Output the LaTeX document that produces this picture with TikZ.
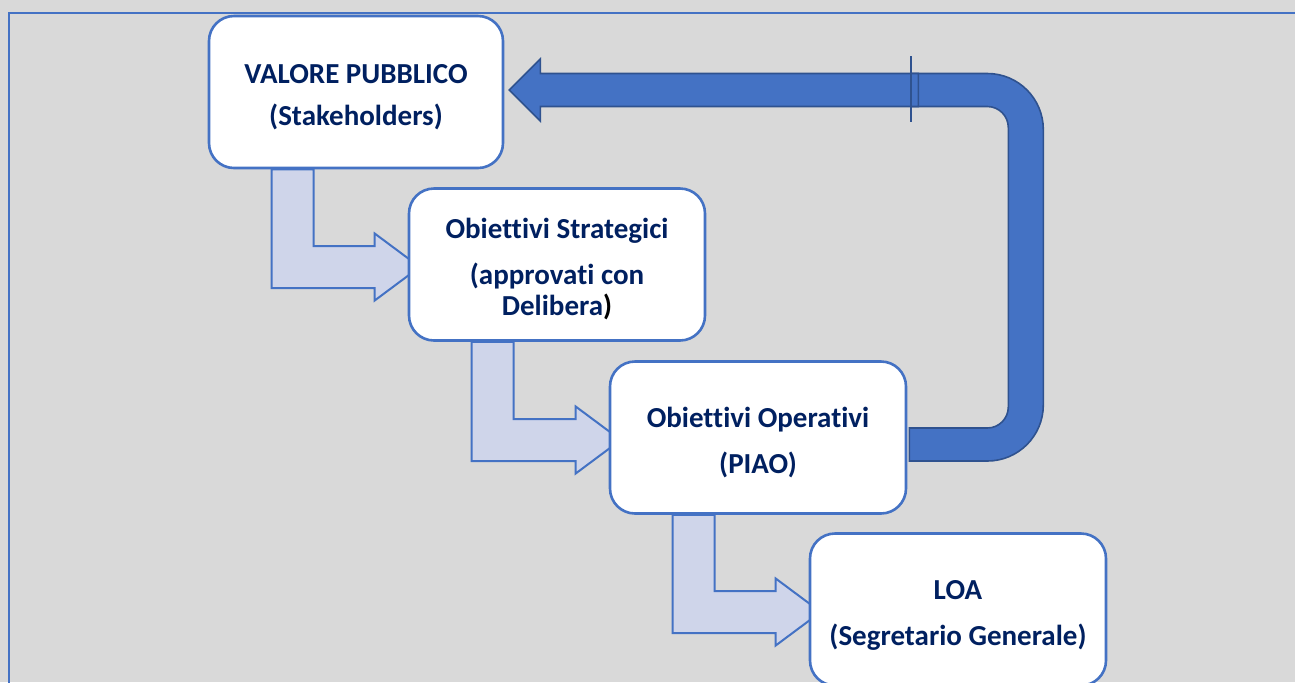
\documentclass[tikz,border=0pt]{standalone}
\usepackage{fontspec}
\setmainfont{Carlito}[Ligatures=NoCommon]
\usetikzlibrary{calc}

\definecolor{bggray}{HTML}{D9D9D9}
\definecolor{lineblue}{HTML}{4472C4}
\definecolor{paleblue}{HTML}{CFD5EA}
\definecolor{darkblue}{HTML}{2F528F}
\definecolor{navy}{HTML}{002060}

\pgfdeclarelayer{bg}
\pgfdeclarelayer{behind}
\pgfsetlayers{bg,behind,main}

\tikzset{
	box/.style={draw=lineblue, line width=1.3pt, fill=white, rounded corners=12.5pt,
		minimum width=148pt, minimum height=76pt, align=center, text=navy,
		font=\fontsize{14.5}{15.5}\selectfont\bfseries},
	bent/.style={draw=lineblue, line width=1pt, fill=paleblue},
	backloop/.style={draw=darkblue, line width=0.8pt, fill=lineblue}
}

% strut that lowers the text a little in the boxes
\newcommand{\topgap}{\rule{0pt}{15pt}}

% bent arrow from the bottom of #1 into the left side of #2
\newcommand{\bentarrow}[2]{%
	\draw[bent] let \p1=(#1.south west), \p2=(#2.west) in
		(\x1+32pt,\y1) -- (\x1+32pt,\y2-11.75pt) -- (\x2-16.5pt,\y2-11.75pt)
		-- (\x2-16.5pt,\y2-18pt) -- (\x2+6pt,\y2-1.25pt) -- (\x2-16.5pt,\y2+15.5pt)
		-- (\x2-16.5pt,\y2+9.25pt) -- (\x1+53pt,\y2+9.25pt) -- (\x1+53pt,\y1) -- cycle;
}

\begin{document}
\begin{tikzpicture}[x=0.5pt,y=-0.5pt]
	\useasboundingbox (0,0) rectangle (1295,682);
	\begin{pgfonlayer}{bg}
		\fill[bggray] (0,0) rectangle (1295,682);
		\draw[lineblue, line width=1pt] (9,690) -- (9,13) -- (1300,13);
	\end{pgfonlayer}

	\draw (356,92) node [box, minimum width=147pt] (vp) {\topgap VALORE PUBBLICO\\[5.5pt](Stakeholders)};
	\draw (557,264.5) node [box] (os) {\topgap Obiettivi Strategici\\[7.5pt](approvati con\\Delibera{\color{black})}};
	\draw (758,437.5) node [box] (oo) {\topgap Obiettivi Operativi\\[7.5pt](PIAO)};
	\draw (958,609.5) node [box] (loa) {\topgap LOA\\[7.5pt](Segretario Generale)};

	\begin{pgfonlayer}{behind}
		\bentarrow{vp}{os}
		\bentarrow{os}{oo}
		\bentarrow{oo}{loa}

		\draw[backloop] let \p1=(vp.east), \p2=(oo.east) in
			(\x2+1pt,\y2-11.75pt) -- (\x2+40pt,\y2-11.75pt)
			arc[start angle=-90, end angle=0, radius=28pt]
			-- (\x2+68pt,\y1+9.25pt-28pt)
			arc[start angle=0, end angle=90, radius=28pt]
			-- (\x1+203.5pt,\y1+9.25pt) -- (\x1+203.5pt,\y1-7.25pt)
			-- (\x2+40pt,\y1-7.25pt)
			arc[start angle=90, end angle=0, radius=10.5pt]
			-- (\x2+50.5pt,\y2+4.75pt+10.5pt)
			arc[start angle=0, end angle=-90, radius=10.5pt]
			-- (\x2+1pt,\y2+4.75pt) -- cycle;
		\draw[backloop] let \p1=(vp.east) in
			(\x1+2.5pt,\y1+1pt) -- (\x1+18pt,\y1+16.5pt) -- (\x1+18pt,\y1+9.25pt)
			-- (\x1+207pt,\y1+9.25pt) -- (\x1+207pt,\y1-7.25pt) -- (\x1+18pt,\y1-7.25pt)
			-- (\x1+18pt,\y1-14.5pt) -- cycle;
		\draw[darkblue, line width=1pt] let \p1=(vp.east) in
			(\x1+203.5pt,\y1+18pt) -- (\x1+203.5pt,\y1-15pt);
	\end{pgfonlayer}
\end{tikzpicture}
\end{document}
